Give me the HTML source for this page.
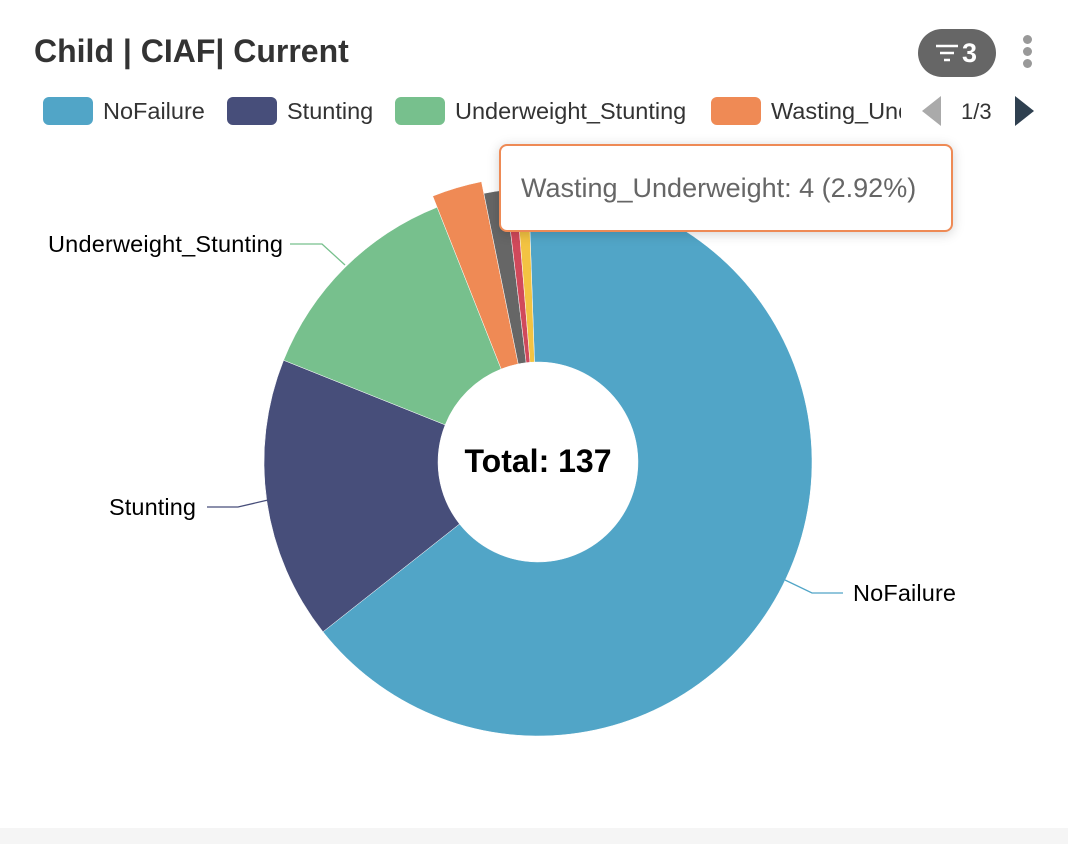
<!DOCTYPE html>
<html><head><meta charset="utf-8"><style>
body{margin:0;width:1068px;height:844px;background:#fff;font-family:"Liberation Sans",sans-serif;overflow:hidden;position:relative}
.t{position:absolute;left:34px;top:33px;font-size:32px;font-weight:bold;color:#333}
.badge{position:absolute;left:918px;top:29px;width:78px;height:48px;border-radius:24px;background:#666;color:#fff;font-size:27px;font-weight:bold}
.dots{position:absolute;left:1023px;top:35px}
.dots i{display:block;width:9px;height:9px;border-radius:50%;background:#999;margin-bottom:3px}
.lg{position:absolute;top:96px;height:30px;display:flex;align-items:center;font-size:23.5px;color:#333}
.lg b{display:inline-block;width:50px;height:28px;border-radius:6px;margin-right:10px}
.tip{position:absolute;left:499px;top:144px;width:450px;height:84px;border:2px solid #ee8a55;border-radius:8px;background:#fff;box-shadow:0 2px 12px rgba(0,0,0,.18);font-size:27px;color:#666;line-height:84px;text-indent:20px;white-space:nowrap}
.foot{position:absolute;left:0;top:828px;width:1068px;height:16px;background:#f5f5f5}
</style></head><body>
<div class="t">Child | CIAF| Current</div>
<div class="badge"><svg width="78" height="48"><g stroke="#fff" stroke-width="2.5"><line x1="18" y1="17" x2="40" y2="17"/><line x1="22" y1="24" x2="36" y2="24"/><line x1="26" y1="31" x2="32" y2="31"/></g><text x="44" y="33" fill="#fff" font-size="27" font-weight="bold" font-family="Liberation Sans">3</text></svg></div>
<div class="dots"><i></i><i></i><i></i></div>
<div class="lg" style="left:43px"><b style="background:#51a5c7"></b>NoFailure</div>
<div class="lg" style="left:227px"><b style="background:#474e7a"></b>Stunting</div>
<div class="lg" style="left:395px"><b style="background:#77c08d"></b>Underweight_Stunting</div>
<div class="lg" style="left:711px;width:190px;overflow:hidden;white-space:nowrap"><b style="background:#ef8a55;flex:none"></b>Wasting_Underweight</div>
<svg style="position:absolute;left:0;top:0" width="1068" height="844">
<polygon points="941,96 941,126 922,111" fill="#aaa"/>
<text x="961" y="119" font-size="22" fill="#333" font-family="Liberation Sans">1/3</text>
<polygon points="1015,96 1015,126 1034,111" fill="#2f4050"/>
<g id="pie"></g>
<g fill="none" stroke-width="1.3">
<polyline points="290,244 322,244 345,265" stroke="#77c08d"/>
<polyline points="207,507 238,507 268,500" stroke="#474e7a"/>
<polyline points="785,580 812,593 843,593" stroke="#51a5c7"/>
</g>
<g font-size="23.5" fill="#000" font-family="Liberation Sans">
<text x="48" y="252" textLength="235">Underweight_Stunting</text>
<text x="109" y="515" textLength="87">Stunting</text>
<text x="853" y="601" textLength="103">NoFailure</text>
<text x="538" y="472" text-anchor="middle" font-size="32" font-weight="bold">Total: 137</text>
</g>
</svg>
<div class="tip">Wasting_Underweight: 4 (2.92%)</div>
<div class="foot"></div>
<script>
var cx=538,cy=462,ri=100;
var s=[[-2,231.7,274,"#51a5c7"],[231.7,291.8,274,"#474e7a"],[291.8,338.4,274,"#77c08d"],[338.4,348.6,286,"#ef8a55"],[348.6,353.2,274,"#666"],[353.2,355.4,274,"#d1495b"],[355.4,358,274,"#f3c342"]];
function p(a,r){a=a*Math.PI/180;return (cx+r*Math.sin(a)).toFixed(2)+","+(cy-r*Math.cos(a)).toFixed(2);}
var h="";
s.forEach(function(d){var l=(d[1]-d[0])>180?1:0;
h+='<path fill="'+d[3]+'" stroke="#fff" stroke-width="0.5" d="M'+p(d[0],ri)+' L'+p(d[0],d[2])+' A'+d[2]+','+d[2]+' 0 '+l+' 1 '+p(d[1],d[2])+' L'+p(d[1],ri)+' A'+ri+','+ri+' 0 '+l+' 0 '+p(d[0],ri)+'Z"/>';});
document.getElementById("pie").innerHTML=h;
</script>
</body></html>
